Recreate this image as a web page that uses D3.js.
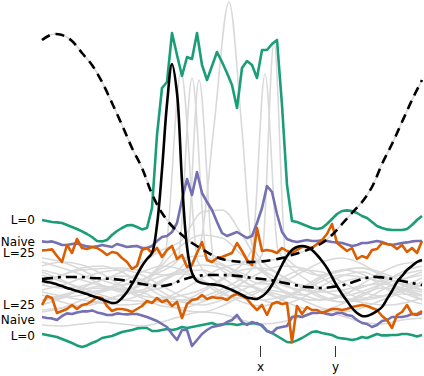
<!DOCTYPE html>
<html lang="en">
<head>
<meta charset="UTF-8">
<title>Bounds on sampled functions</title>
<script src="https://d3js.org/d3.v7.min.js"></script>
<style>
  body { margin: 0; background: white; overflow: hidden; }
  svg text { font-family: "DejaVu Sans", sans-serif; font-size: 12px; fill: #000; }
  .gray { fill: none; stroke: #d9d9d9; stroke-width: 1.6; }
  .band { fill: none; stroke-width: 2.6; stroke-linejoin: round; }
</style>
</head>
<body>
<svg id="chart" width="424" height="376"></svg>
<script>
// x runs over 77 grid steps, y in plot units (0 bottom .. 180 top)
var greenUpper = [70,69.5,69,68.8,68.5,67.5,66.5,65.5,64.3,63,
  61.5,59.5,59.3,60,62.5,64.5,66,67.3,67.5,66.5,
  65.3,66,76,112.5,136,139,163.5,152.5,142,151.5,
  150.5,163.5,147.5,140,147,154,149,143.5,137.5,126,
  146,149.5,147.5,141,155,155,158,160,127.5,87.5,
  69.5,69,68,67,66,65.5,66,68,70.5,73,
  74.5,74.8,74.5,73.5,72,71,69,67,66,65.3,
  65,65,65,65.5,67.5,70,72];
var greenLower = [13,12.5,12,11.5,10.5,9.5,8.5,7.3,6.5,7.3,
  8.5,9.5,11,11.5,12,13,14,14.5,15,15.8,
  16,16,14.5,14.5,15,15.5,15,15.5,16.5,16,
  16.5,17,17.5,18,18.5,17.5,17.8,18,18,17.5,
  18,18,18.3,18.5,17,14.5,13.5,12,10.5,9,
  8.8,9.8,11,12.5,14,14.3,13.5,13,12.5,11.3,
  10.8,10.5,10,10.5,11.5,11,12,13,12.3,12.3,
  12.5,12.5,13,13,12.5,11.8,12.5];
var purpleUpper = [59.3,59,59.3,58.5,57.5,57.5,58,58.3,57.5,56.8,
  56.5,56.8,57.5,57,56.5,58,57.3,56.5,56.8,57,
  56,56,57,59.5,61.5,62,64,68.5,80,90.5,
  82.5,94,83.5,79,75,69,63.5,62,63,64,
  62.5,61,62,68.5,76,87,84,73,64,60.5,
  59.5,59,59.5,60,59.5,59.5,59.8,59.5,59,58.8,
  58.5,57.8,57,57.5,58.5,58.5,59,59.5,59,58,
  57.5,58,58.5,58.8,59.3,59.5,59.5];
var purpleLower = [21.5,21,20.8,20,22,23.3,23,23.8,24.3,24.3,
  24.8,23.8,23.3,22.5,22.5,23.3,23,22.8,23,23,
  22.3,21.5,20.5,19.5,18,16.5,13,10,15,15,
  7,10,13,15,16.5,17,17.5,19,20,22.5,
  19,17.5,19,18,17.5,14.5,13.5,16,16.5,17,
  21.5,22,21.5,22.5,23.5,23.5,23.8,23,22.5,23.5,
  23.5,22.5,22,20,18.5,18,16.5,17.5,19.5,20,
  21.5,21.5,21.5,22,23,22.5,23.5];
var orangeUpper = [54.8,55,55.3,52,49,57.5,53.5,60.5,56,55.5,
  56.5,56,54.5,52.5,54,53.5,51,49,45.5,47,
  55,56,53.5,56,51.5,55,57,50.5,52.5,46.5,
  47.5,53.5,59,50,49,51,51.5,52.5,53.5,58.5,
  54.5,50,47.5,66,54.5,55,54.5,53.5,56,54.5,
  53.5,55,56.5,56.5,56,58,60,63,68,58.5,
  56.5,54.5,56,50.5,52,51,55,55.5,58.5,58,
  57.5,55.5,57.5,54,56,53.5,59.5];
var orangeLower = [27.5,32,31,23.5,24.5,25.5,27.5,25.5,27.5,28,
  29.5,31.5,31,27,24.5,25.5,25.5,25,24,25.5,
  27,29.5,28.5,31,29,30,27,29,21,28,
  30,30.5,32.5,30.5,31.5,31,31,30,32,33,
  32,30.5,27.5,25,27.5,22.5,28,29,28,28.5,
  9,27,23,26.5,25,25,23.5,24.5,25.5,25.5,
  25,25.5,26.5,27,27.5,27,26,25,22,20,
  16,22.5,24,27.5,23,23,24.5];
var solidMean = [39.5,39,38.5,37.8,37,36,35.3,34.5,33.8,33,
  32,31.3,30.3,29.3,28.5,28.8,31,34,38,42.5,
  47,50.5,53.5,67.5,95,128,148,133.5,89.5,56.5,
  43.5,39.5,38.5,38,37.8,37.5,37,36,35,33.8,
  32.5,31.3,30.8,30.5,31.8,34,37.5,42.5,47.5,52,
  55,56.5,57,56.5,55,52.5,49.5,46,41.5,37,
  33,29.5,26,23.5,22,22,23,24.5,26.5,30.5,
  34.5,39,42,45,47,49,50];

// every second grid step
var dashDotLine = [40.5,41,41.5,41.5,41.5,41,40.8,40.5,40,39,
  38,37.3,37,38,40,41.5,42.3,42.5,42.5,42.3,
  41.8,41,40.5,39.8,38.8,37.8,36.8,36.3,36,36.5,
  37.3,38.8,40.5,41.5,41.3,40.5,39.5,38.5,37.5];
var dashedLine = [160,162.8,162.5,159.5,153.5,147.5,139,128.5,117.5,106,
  96,83,73.5,67,62.5,58.5,55.5,52.5,50.5,49.5,
  49,49,49.3,50,51,52.5,54,56,58.5,62.5,
  68,73.5,79,86.5,98,108,119,130,140];

// gray samples, every fourth grid step
var graySamples = [
  [49,46,42.5,37.5,34,35,40,45,47.5,46,40,34,31,35,41,45,46,42.5,37.5,35],
  [35,37.5,41,44,45,42.5,37,32,30,32.5,38.5,44,47,46,41,35,31,32,36.5,41],
  [44,40,35,31,30,33,39,44,45,41,35,30,28,31,37,42,44,40,34,30],
  [30,32,36,40,42,40,34,29,27.5,30,35,39,40,37,32,29,30,35,40,44],
  [39,42.5,46,47,44,38,32,30,34,40,45,46,42,36,31,29,32,38,44,47],
  [24,26,30,34,36,34,29,25,24,27,32,35,34,30,26,24,26,30,33,32],
  [17.5,17,18,19,18,17,19,22,24,23,20,18,19,22,24,22,19,18,20,21],
  [47,49,47.5,43,37,32,31,35,41,46,48,45,39,33,30,32,38,44,48,49],
  [32.5,29,27,29,33,38,42,43,40,34,29,27,30,36,42,45,43,37,31,28],
  [41,37,34,35,39,44,47,45,39,33,31,35,41,45,44,39,34,32,35,39],
  [27.5,31,35,37,35,31,27,26,29,34,37,35,30,26,25,28,33,36,35,30],
  [51,49,45,40,37.5,40,46,51,52,48,42,38,39,44,49,51,48,42,38,37],
  [37.5,36,37,40,44,49,55,60,74,75,62.5,46,35,32.5,35,39,41,39,35,32.5],
  [30,32.5,35,36,35,37.5,47.5,57.5,62.5,61,52.5,44,37.5,35,34,35,37,38,36,34]
];

// gray samples with a narrow peak, as [step, value]
var graySpikes = [
  [[0,45],[8,40],[16,35],[21.6,42.5],[24.6,52.5],[27.8,144],[31.2,49],[36,37.5],[44,30],[52,35],[60,42.5],[68,39],[76,32.5]],
  [[0,30],[8,32.5],[16,37.5],[23.6,44],[27.2,50],[30,141],[33,51],[37.6,46],[45.6,37.5],[53.6,30],[61.6,32.5],[69.6,39],[76,42.5]],
  [[0,37.5],[8,45],[16,46],[24.6,42.5],[28.8,49],[31.4,140],[34.4,49],[39.6,40],[47.6,32.5],[55.6,30],[63.6,36],[71.6,42.5],[76,45]],
  [[0,25],[8,27.5],[16,32.5],[25.6,37.5],[31.6,57.5],[34.4,117],[37.4,179],[40,115],[42,57.5],[47.6,42.5],[55.6,35],[63.6,30],[71.6,34],[76,37.5]],
  [[0,34],[8,30],[16,27.5],[25.6,31],[35.6,40],[42,55],[44.6,143],[47.2,55],[53.6,39],[61.6,30],[69.6,27.5],[76,31]],
  [[0,42.5],[8,36],[16,30],[25.6,29],[35.6,35],[44,52.5],[46.4,159],[48.8,51],[55.6,42.5],[63.6,46],[71.6,40],[76,35]]
];

var bandColors = {green: "#1b9e77", purple: "#7570b3", orange: "#d95f02"};
var labelNames = ["L=0", "Naive", "L=25", "L=25", "Naive", "L=0"];
var tickSpots = [43.6, 58.6];
var tickNames = ["x", "y"];

var svg = d3.select("#chart");
var x = d3.scaleLinear().domain([0, 76]).range([42, 422]);
var y = d3.scaleLinear().domain([0, 180]).range([360, 0]);

function lineOf(step, curve) {
  return d3.line()
    .x(function (d, i) { return x(i * step); })
    .y(function (d) { return y(d); })
    .curve(curve || d3.curveLinear);
}

var plot = svg.append("g");

// gray sample curves
plot.selectAll(".gs")
  .data(graySamples)
  .enter().append("path")
  .attr("class", "gray")
  .attr("d", lineOf(4, d3.curveMonotoneX));

var spikeLine = d3.line()
  .x(function (d) { return x(d[0]); })
  .y(function (d) { return y(d[1]); })
  .curve(d3.curveMonotoneX);

plot.selectAll(".sp")
  .data(graySpikes)
  .enter().append("path")
  .attr("class", "gray")
  .attr("d", spikeLine);

// gray under the dashed curve
plot.append("path")
  .datum(dashedLine)
  .attr("class", "gray")
  .attr("stroke-width", 2)
  .attr("d", lineOf(2, d3.curveCatmullRom));

// bound lines
var bands = [
  [greenUpper, bandColors.green],
  [greenLower, bandColors.green],
  [purpleUpper, bandColors.purple],
  [purpleLower, bandColors.purple],
  [orangeUpper, bandColors.orange],
  [orangeLower, bandColors.orange]
];
plot.selectAll(".band")
  .data(bands)
  .enter().append("path")
  .attr("class", "band")
  .attr("stroke", function (d) { return d[1]; })
  .attr("d", function (d) { return lineOf(1)(d[0]); });

plot.append("path")
  .datum(dashedLine)
  .attr("fill", "none")
  .attr("stroke", "#000")
  .attr("stroke-width", 2.6)
  .attr("stroke-dasharray", "9,6")
  .attr("d", lineOf(2, d3.curveCatmullRom));

plot.append("path")
  .datum(dashDotLine)
  .attr("fill", "none")
  .attr("stroke", "#000")
  .attr("stroke-width", 2.6)
  .attr("stroke-dasharray", "11,5,3,5")
  .attr("d", lineOf(2, d3.curveCatmullRom));

plot.append("path")
  .datum(solidMean)
  .attr("fill", "none")
  .attr("stroke", "#000")
  .attr("stroke-width", 2.6)
  .attr("stroke-linejoin", "round")
  .attr("d", lineOf(1, d3.curveCatmullRom));

// labels at the start of each bound
var labelSeries = [greenUpper, purpleUpper, orangeUpper, orangeLower, purpleLower, greenLower];
var labelNudge = [4, 5, 7, 4, 7, 5.5];
svg.selectAll(".lab")
  .data(labelNames)
  .enter().append("text")
  .attr("x", x(0) - 7)
  .attr("y", function (d, i) { return y(labelSeries[i][0]) + labelNudge[i]; })
  .attr("text-anchor", "end")
  .text(function (d) { return d; });

// x / y marks at the bottom
var axis = d3.axisBottom(x)
  .tickValues(tickSpots)
  .tickFormat(function (d, i) { return tickNames[i]; })
  .tickSize(11)
  .tickPadding(5);
var ax = svg.append("g")
  .attr("transform", "translate(0,346)")
  .call(axis);
ax.select(".domain").remove();
ax.selectAll("line").attr("stroke", "#333");
ax.selectAll("text").attr("font-family", "DejaVu Sans, sans-serif").attr("font-size", 12);
</script>
</body>
</html>
